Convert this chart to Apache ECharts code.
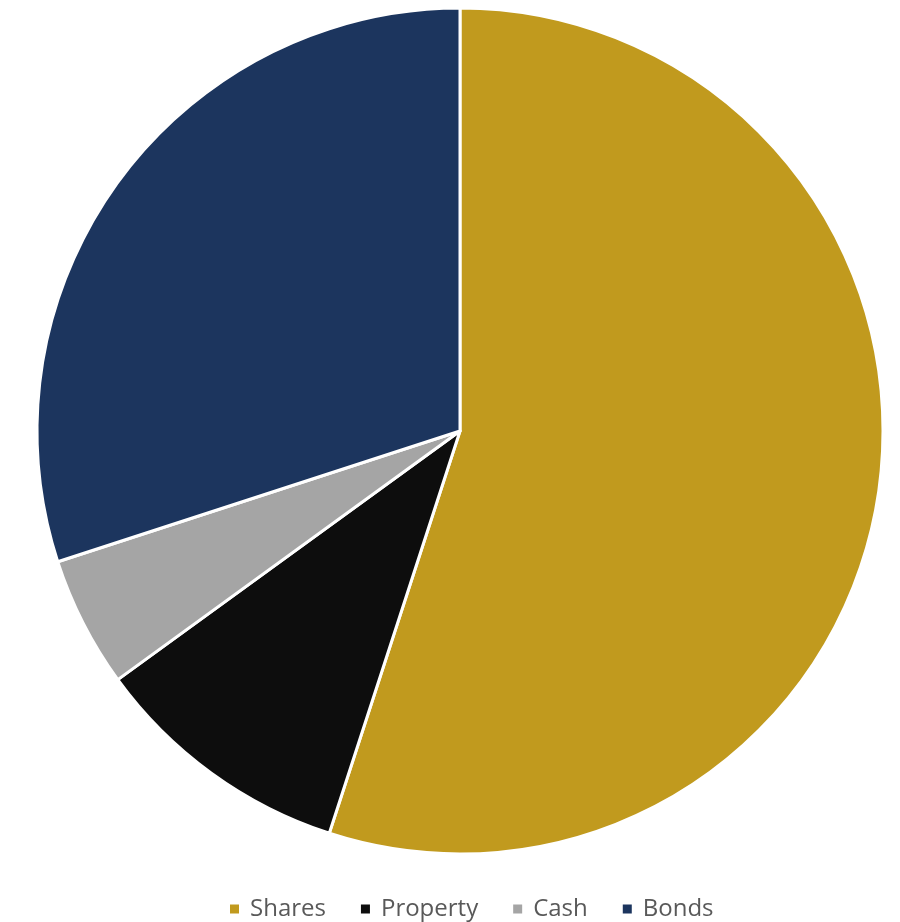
<!DOCTYPE html>
<html>
<head>
<meta charset="utf-8">
<script src="https://cdn.jsdelivr.net/npm/echarts@6/dist/echarts.min.js"></script>
<style>
html, body { margin: 0; padding: 0; background: #fff; }
#chart { width: 900px; height: 922px; }
</style>
</head>
<body>
<div id="chart"></div>
<script>
var categories = ['Shares', 'Property', 'Cash', 'Bonds'];
var values = [55, 10, 5, 30];
var colors = ['#C19A1E', '#0D0D0D', '#A5A5A5', '#1C355E'];

var myChart = echarts.init(document.getElementById('chart'));
myChart.setOption({
    animation: false,
    color: colors,
    legend: {
        top: 892,
        left: 223,
        itemWidth: 11,
        itemHeight: 11,
        itemGap: 33,
        icon: 'rect',
        textStyle: {
            color: '#595959',
            fontSize: 24,
            padding: [0, 0, 0, 5],
            fontFamily: 'Open Sans'
        },
        data: categories
    },
    series: [{
        type: 'pie',
        center: [460, 431],
        radius: 423,
        startAngle: 90,
        clockwise: true,
        label: { show: false },
        labelLine: { show: false },
        itemStyle: {
            borderColor: '#fff',
            borderWidth: 3
        },
        data: categories.map(function(name, i) {
            return { name: name, value: values[i] };
        })
    }]
});
</script>
</body>
</html>
